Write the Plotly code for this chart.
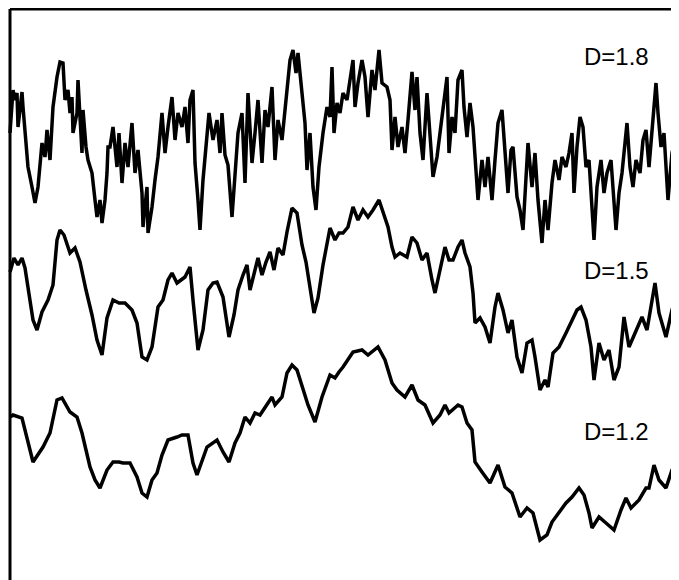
import plotly.graph_objects as go

# ---- data (x = sample position, y = trace level; axis reversed) ----
d12_x = [10, 13, 22, 33, 43, 50, 57, 62, 70, 77, 82, 90, 95, 100, 107, 113, 119, 123, 130, 137,
         142, 147, 152, 157, 162, 168, 177, 182, 188, 193, 197, 202, 207, 217, 223, 229, 235, 240,
         245, 250, 255, 260, 265, 272, 275, 282, 287, 292, 297, 302, 308, 315, 322, 330, 335, 339,
         343, 353, 362, 368, 378, 385, 392, 397, 405, 412, 418, 425, 433, 440, 445, 449, 458, 462,
         467, 472, 475, 482, 490, 498, 505, 512, 520, 527, 533, 540, 547, 552, 559, 566, 572, 579,
         584, 589, 592, 599, 606, 614, 621, 626, 631, 639, 646, 649, 654, 659, 666, 672, 678]
d12_y = [417, 415, 418, 462, 447, 433, 400, 398, 412, 417, 433, 467, 480, 488, 470, 462, 462, 463, 463, 477,
         493, 497, 480, 473, 455, 440, 437, 435, 435, 463, 475, 460, 447, 440, 452, 462, 443, 433,
         417, 423, 413, 415, 407, 397, 405, 397, 373, 365, 370, 387, 405, 422, 397, 375, 378, 372,
         367, 352, 350, 355, 347, 360, 383, 390, 397, 385, 400, 405, 423, 415, 405, 413, 405, 407,
         423, 430, 462, 472, 483, 465, 487, 493, 517, 508, 513, 540, 535, 522, 513, 503, 497, 488,
         495, 513, 528, 517, 523, 530, 510, 498, 508, 500, 488, 488, 465, 480, 488, 470, 467]

d15_x = [10, 14, 18, 22, 25, 30, 33, 37, 42, 48, 53, 57, 60, 64, 70, 75, 80, 86, 92, 97, 102, 107,
         113, 119, 125, 132, 137, 142, 147, 152, 158, 163, 168, 172, 177, 185, 190, 193, 198, 203,
         208, 213, 217, 223, 229, 234, 238, 243, 247, 250, 254, 258, 262, 266, 270, 274, 278, 283,
         287, 292, 297, 302, 306, 310, 314, 318, 323, 330, 335, 339, 343, 348, 353, 358, 363, 368,
         373, 379, 383, 388, 392, 395, 400, 407, 412, 417, 422, 427, 432, 435, 440, 445, 449, 453,
         458, 462, 465, 470, 473, 475, 480, 485, 490, 495, 498, 503, 508, 512, 517, 522, 527, 532,
         535, 540, 545, 548, 553, 559, 566, 572, 577, 581, 586, 591, 594, 599, 604, 609, 614, 619,
         624, 629, 636, 642, 647, 652, 655, 659, 666, 672, 678]
d15_y = [272, 258, 265, 258, 268, 300, 320, 330, 312, 300, 285, 240, 230, 235, 253, 248, 262, 290, 315, 340, 355, 318,
         300, 303, 303, 310, 323, 357, 360, 347, 307, 300, 280, 273, 283, 277, 267, 300, 350, 330,
         290, 283, 282, 297, 337, 315, 290, 275, 265, 290, 275, 258, 275, 262, 252, 270, 248, 255,
         232, 208, 213, 245, 262, 285, 313, 298, 265, 228, 240, 233, 233, 227, 207, 220, 210, 217,
         210, 200, 213, 227, 247, 257, 253, 257, 237, 243, 260, 253, 280, 293, 270, 247, 260, 260,
         247, 240, 253, 267, 293, 323, 318, 327, 343, 307, 293, 310, 333, 320, 357, 373, 343, 340,
         357, 390, 380, 387, 353, 347, 333, 320, 310, 307, 320, 347, 380, 343, 360, 350, 380, 367,
         317, 347, 330, 317, 330, 300, 283, 313, 337, 310, 290]

d18_x = [10, 13, 15, 17, 18, 20, 22, 23, 25, 28, 32, 35, 38, 42, 45, 47, 50, 53, 57, 60, 63, 65, 68,
         70, 72, 73, 77, 78, 80, 82, 83, 86, 88, 92, 95, 97, 100, 102, 105, 107, 108, 110, 113, 117,
         119, 122, 125, 128, 132, 135, 138, 142, 143, 147, 148, 152, 155, 158, 162, 165, 168, 172,
         175, 178, 182, 185, 188, 190, 193, 195, 198, 200, 203, 207, 209, 213, 217, 220, 222, 225,
         228, 232, 235, 238, 242, 245, 248, 252, 255, 258, 262, 265, 268, 272, 275, 278, 282, 284,
         287, 290, 293, 296, 298, 302, 305, 307, 310, 313, 316, 319, 323, 327, 330, 332, 334, 337,
         340, 343, 347, 350, 353, 355, 358, 362, 365, 368, 372, 375, 379, 382, 387, 390, 392, 395,
         398, 402, 405, 408, 412, 415, 417, 420, 423, 427, 430, 433, 437, 440, 443, 447, 449, 452,
         455, 458, 462, 464, 467, 470, 473, 475, 478, 482, 485, 488, 492, 495, 498, 502, 505, 508,
         511, 513, 517, 520, 523, 526, 528, 532, 535, 538, 542, 545, 548, 552, 555, 559, 562, 566,
         569, 572, 574, 577, 580, 583, 586, 589, 592, 594, 597, 601, 604, 607, 611, 614, 616, 619,
         622, 626, 627, 630, 633, 636, 640, 643, 646, 649, 652, 654, 656, 658, 661, 664, 666, 668,
         672, 675, 678]
d18_y = [133, 90, 100, 93, 127, 107, 92, 107, 133, 167, 187, 203, 187, 143, 157, 130, 160, 107, 77, 62, 63, 100, 90,
         113, 97, 133, 113, 80, 117, 153, 110, 147, 160, 173, 200, 217, 200, 223, 200, 173, 147, 147, 127, 167,
         133, 183, 143, 167, 123, 173, 150, 193, 227, 187, 233, 207, 180, 157, 113, 153, 127, 97,
         140, 113, 127, 107, 143, 100, 90, 163, 200, 230, 180, 133, 113, 140, 120, 153, 113, 155,
         165, 217, 173, 133, 113, 183, 93, 163, 133, 100, 163, 110, 127, 87, 160, 120, 140, 120,
         83, 60, 50, 73, 53, 97, 123, 170, 133, 187, 210, 167, 133, 107, 117, 67, 133, 103,
         113, 93, 100, 80, 60, 107, 83, 60, 77, 117, 70, 90, 50, 83, 87, 100, 150, 117,
         147, 127, 153, 120, 72, 110, 77, 133, 160, 93, 140, 177, 157, 133, 110, 77, 153, 117,
         133, 80, 70, 107, 137, 103, 127, 160, 200, 160, 187, 157, 200, 160, 123, 110, 147, 193,
         150, 147, 197, 210, 230, 167, 143, 187, 153, 200, 243, 200, 230, 183, 160, 180, 157, 167,
         153, 133, 193, 147, 117, 127, 167, 160, 207, 240, 187, 160, 193, 173, 160, 200, 230, 193,
         173, 133, 123, 167, 187, 160, 173, 140, 130, 167, 133, 110, 83, 113, 147, 133, 167, 200,
         153, 140, 100]

labels = ["D=1.8", "D=1.5", "D=1.2"]
label_y = [56, 270, 431]

fig = go.Figure()
for xs, ys, w in [(d18_x, d18_y, 3.5), (d15_x, d15_y, 3.5), (d12_x, d12_y, 3.5)]:
    fig.add_trace(go.Scatter(x=xs, y=ys, mode="lines",
                             line=dict(color="black", width=w),
                             showlegend=False, hoverinfo="skip"))

for txt, ly in zip(labels, label_y):
    fig.add_annotation(x=616, y=ly, text=txt, showarrow=False, xanchor="center", yanchor="middle",
                       font=dict(family="Liberation Sans Narrow, Liberation Sans, Arial", size=24, color="black"))

# frame (left and top border lines)
fig.add_shape(type="line", x0=10, x1=10, y0=9, y1=580, line=dict(color="black", width=3))
fig.add_shape(type="line", x0=10, x1=679, y0=9, y1=9, line=dict(color="black", width=3))

# page body has an 8px margin: the figure is sized and ranged so the window shows data 8..679 / 8..580
fig.update_xaxes(range=[8, 679], visible=False)
fig.update_yaxes(range=[580, 8], visible=False)
fig.update_layout(width=671, height=572, margin=dict(l=0, r=0, t=0, b=0),
                  paper_bgcolor="white", plot_bgcolor="white")
fig.write_html("out.html")
